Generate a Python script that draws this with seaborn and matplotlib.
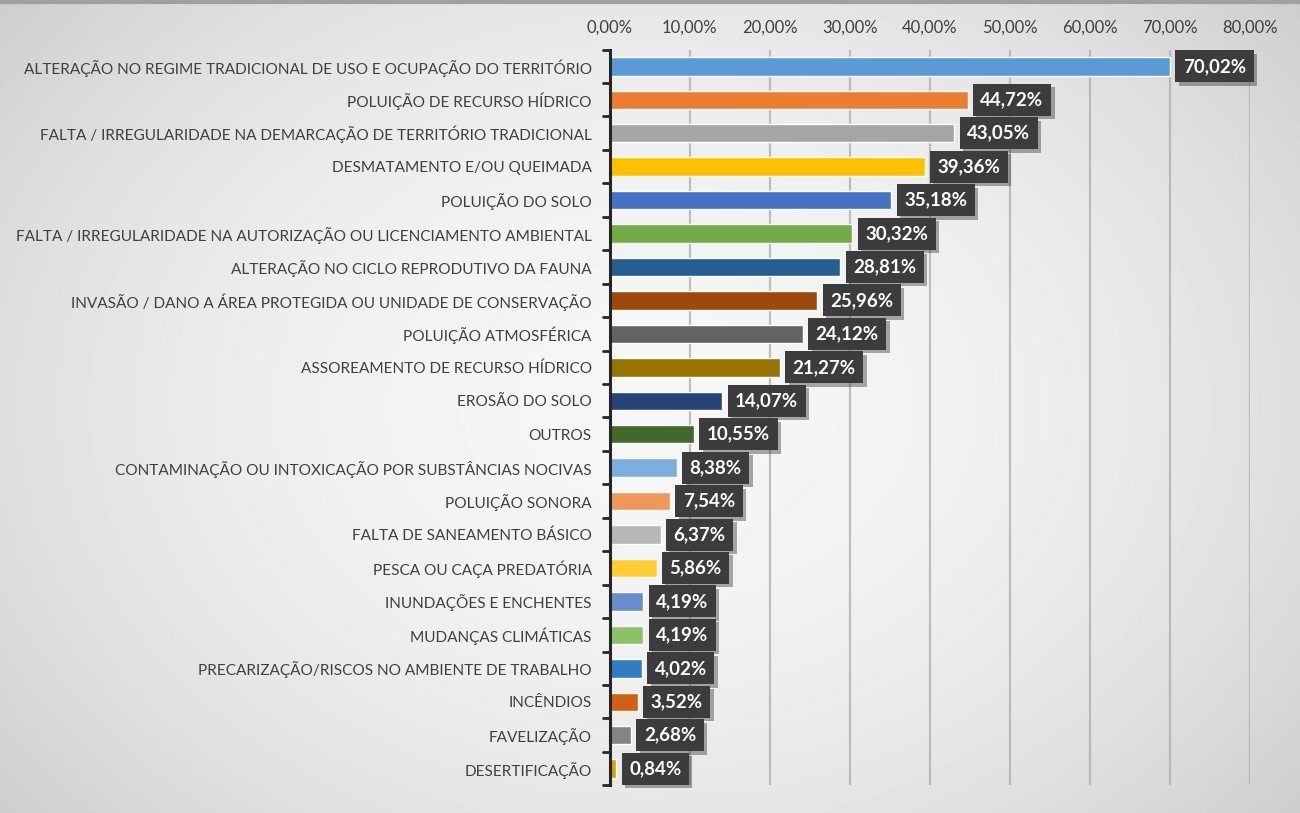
import numpy as np
import pandas as pd
import seaborn as sns
import matplotlib.pyplot as plt
import matplotlib.patheffects as pe
from matplotlib.ticker import MultipleLocator, FuncFormatter

categories = [
    "ALTERAÇÃO NO REGIME TRADICIONAL DE USO E OCUPAÇÃO DO TERRITÓRIO",
    "POLUIÇÃO DE RECURSO HÍDRICO",
    "FALTA / IRREGULARIDADE NA DEMARCAÇÃO DE TERRITÓRIO TRADICIONAL",
    "DESMATAMENTO E/OU QUEIMADA",
    "POLUIÇÃO DO SOLO",
    "FALTA / IRREGULARIDADE NA AUTORIZAÇÃO OU LICENCIAMENTO AMBIENTAL",
    "ALTERAÇÃO NO CICLO REPRODUTIVO DA FAUNA",
    "INVASÃO / DANO A ÁREA PROTEGIDA OU UNIDADE DE CONSERVAÇÃO",
    "POLUIÇÃO ATMOSFÉRICA",
    "ASSOREAMENTO DE RECURSO HÍDRICO",
    "EROSÃO DO SOLO",
    "OUTROS",
    "CONTAMINAÇÃO OU INTOXICAÇÃO POR SUBSTÂNCIAS NOCIVAS",
    "POLUIÇÃO SONORA",
    "FALTA DE SANEAMENTO BÁSICO",
    "PESCA OU CAÇA PREDATÓRIA",
    "INUNDAÇÕES E ENCHENTES",
    "MUDANÇAS CLIMÁTICAS",
    "PRECARIZAÇÃO/RISCOS NO AMBIENTE DE TRABALHO",
    "INCÊNDIOS",
    "FAVELIZAÇÃO",
    "DESERTIFICAÇÃO",
]
values = [70.02, 44.72, 43.05, 39.36, 35.18, 30.32, 28.81, 25.96, 24.12, 21.27,
          14.07, 10.55, 8.38, 7.54, 6.37, 5.86, 4.19, 4.19, 4.02, 3.52, 2.68, 0.84]
colors = ["#5B9BD5", "#ED7D31", "#A5A5A5", "#FFC000", "#4472C4", "#70AD47",
          "#255E91", "#9E480E", "#636363", "#997300", "#264478", "#43682B",
          "#7CAFDD", "#F1975A", "#B7B7B7", "#FFCD33", "#698ED0", "#8CC168",
          "#327DC2", "#D26012", "#848484", "#D5A000"]

df = pd.DataFrame({"cat": categories, "val": values})

sns.set_style("white")
plt.rcParams['font.family'] = ['Lato', 'DejaVu Sans']

fig = plt.figure(figsize=(13, 8.13), dpi=100)

# background gradient, light in the middle, greyer towards the edges
bg = fig.add_axes([0, 0, 1, 1], zorder=-10)
xx, yy = np.meshgrid(np.linspace(-1, 1, 400), np.linspace(-1, 1, 250))
r = np.sqrt((xx * 0.85) ** 2 + (yy * 0.7) ** 2)
bg.imshow(0.965 - 0.13 * np.clip(r, 0, 1.2) ** 2, cmap="gray", vmin=0, vmax=1,
          aspect="auto", extent=[0, 1, 0, 1])
bg.plot([0, 1], [0.997, 0.997], color="#a0a0a0", lw=3)
bg.set_xlim(0, 1)
bg.set_ylim(0, 1)
bg.axis("off")

ax = fig.add_axes([0.469, 0.034, 0.4925, 0.905])
ax.patch.set_alpha(0)
sns.barplot(data=df, y="cat", x="val", hue="cat", palette=colors, legend=False,
            width=0.55, saturation=1, ax=ax)

ax.set_xlim(0, 80)
ax.set_ylim(len(values) - 0.5, -0.5)
ax.xaxis.set_major_locator(MultipleLocator(10))
ax.xaxis.set_major_formatter(FuncFormatter(lambda v, p: f"{v:.2f}%".replace(".", ",")))
ax.xaxis.tick_top()
ax.tick_params(axis="x", length=0, pad=10, labelsize=12, labelcolor="#404040")
ax.tick_params(axis="y", length=0, pad=13, labelsize=11.1, labelcolor="#404040")
ax.grid(axis="x", color="#b0b0b0", lw=1.6, alpha=0.8)
ax.set_axisbelow(True)
ax.set_xlabel("")
ax.set_ylabel("")
for s in ["top", "right", "bottom"]:
    ax.spines[s].set_visible(False)
ax.spines["left"].set_color("#262626")
ax.spines["left"].set_linewidth(2.2)

# small ticks between the categories on the left axis
for k in range(len(values) + 1):
    ax.plot([-0.8, 0], [k - 0.5, k - 0.5], color="#262626", lw=2, clip_on=False)

for i, v in enumerate(values):
    txt = f"{v:.2f}%".replace(".", ",")
    ax.text(v + 1.6, i, txt, va="center", ha="left", color="white",
            fontsize=13.5, fontweight="bold",
            bbox=dict(boxstyle="square,pad=0.4", fc="#3c3c3c", ec="none",
                      path_effects=[pe.withSimplePatchShadow(offset=(2.5, -2.5), alpha=0.35)]))

fig.savefig("out.png", dpi=100)
